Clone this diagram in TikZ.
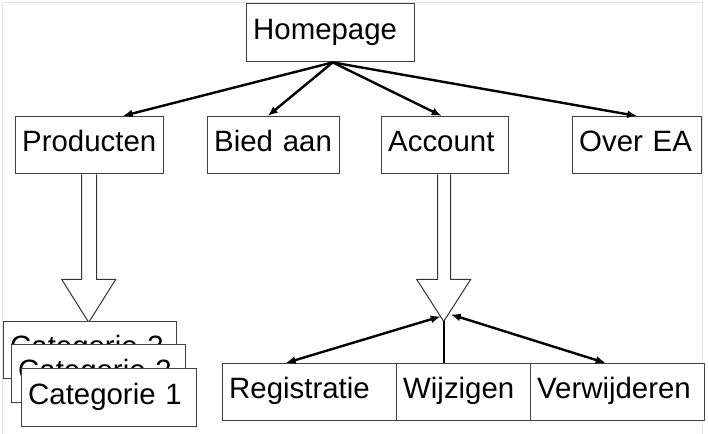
\documentclass[tikz,border=0pt]{standalone}
\usepackage{fontspec}
\setmainfont{Liberation Sans}
\usetikzlibrary{arrows.meta,calc}
\definecolor{boxgray}{HTML}{404040}
\definecolor{arrgray}{HTML}{333333}
\definecolor{framegray}{HTML}{E4E4E4}
\begin{document}
\begin{tikzpicture}[x=1pt,y=-1pt,
  box/.style={draw=boxgray, line width=1.4pt, fill=white, rectangle, anchor=north west,
    inner xsep=6.5pt, inner ysep=0pt, align=left, text height=21pt, text depth=8pt,
    font=\fontsize{29.4}{34}\selectfont},
  link/.style={line width=2.4pt, -{Latex[length=10pt,width=8pt]}},
  dlink/.style={line width=2.4pt, {Latex[length=10pt,width=8pt]}-{Latex[length=10pt,width=8pt]}},
  stem/.style={line width=2.4pt},
  hollow/.style={draw=arrgray, line width=1pt, fill=white},
  frame/.style={draw=framegray, line width=1pt},
]
\useasboundingbox (0,0) rectangle (708,433);
\draw[frame] (2,440) -- (2,3) -- (702,3) -- (702,440);

% top level
\node[box, text width=155pt, minimum height=58pt] (home) at (246,3) {Homepage};
\node[box, text width=135pt, minimum height=57pt] (prod) at (15,116) {Producten};
\node[box, text width=119pt, minimum height=57pt] (bied) at (207,116) {Bied aan};
\node[box, text width=114pt, minimum height=57pt] (acc) at (381,116) {Account};
\node[box, text width=116pt, minimum height=57pt] (over) at (572,116) {Over EA};

\coordinate (hs) at ($(home.south)+(2,0)$);
\draw[link] (hs) -- ([xshift=33pt]prod.north);
\draw[link] (hs) -- ([xshift=-6pt]bied.north);
\draw[link] (hs) -- ([xshift=-3.5pt]acc.north);
\draw[link] (hs) -- (over.north);

% hollow arrow Producten
\coordinate (p0) at (prod.south);
\draw[hollow] ($(p0)+(-8,0)$) -- ($(p0)+(-8,105)$) -- ($(p0)+(-28,105)$)
  -- ($(p0)+(-1,148)$) coordinate (ptip) -- ($(p0)+(26,105)$) -- ($(p0)+(7,105)$) -- ($(p0)+(7,0)$);

% hollow arrow Account
\coordinate (a0) at (acc.south);
\draw[hollow] ($(a0)+(-7.5,0)$) -- ($(a0)+(-7.5,105)$) -- ($(a0)+(-28.5,105)$)
  -- ($(a0)+(-1.5,147)$) coordinate (atip) -- ($(a0)+(25.5,105)$) -- ($(a0)+(5.5,105)$) -- ($(a0)+(5.5,0)$);

% categories
\node[box, text width=160pt, minimum height=57pt] (cat3) at (3,321) {Categorie 3};
\node[box, text width=161pt, minimum height=58pt] (cat2) at (11,344) {Categorie 2};
\node[box, text width=162pt, minimum height=58pt] (cat1) at (21,368) {Categorie 1};

% account sub-pages
\node[box, text width=161pt, minimum height=57pt] (reg) at (222,363) {Registratie};
\node[box, text width=121pt, minimum height=57pt] (wij) at (396,363) {Wijzigen};
\node[box, text width=161pt, minimum height=57pt] (verw) at (530,363) {Verwijderen};

\draw[stem] (atip |- wij.north) -- (atip);
\draw[dlink] ($(atip)+(-3,-5)$) -- ([xshift=-24pt]reg.north);
\draw[dlink] ($(atip)+(7,-7)$) -- ([xshift=-12pt]verw.north);
\end{tikzpicture}
\end{document}
